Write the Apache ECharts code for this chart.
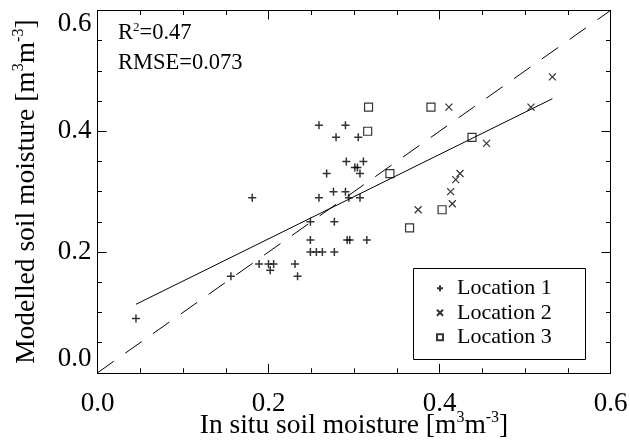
<!DOCTYPE html>
<html>
<head>
<meta charset="utf-8">
<script src="https://cdn.jsdelivr.net/npm/echarts@6/dist/echarts.min.js"></script>
<style>
html,body{margin:0;padding:0;background:#fff;}
#c{width:630px;height:447px;}
</style>
</head>
<body>
<div id="c"></div>
<script>
// ---- data ----
var loc1X = [0.045,0.156,0.181,0.189,0.200,0.206,0.202,0.231,0.234,0.249,0.249,0.249,0.256,0.263,0.277,0.277,0.259,0.259,0.268,0.276,0.279,0.290,0.290,0.291,0.294,0.292,0.295,0.301,0.304,0.305,0.307,0.307,0.311,0.315];
var loc1Y = [0.09,0.16,0.29,0.18,0.18,0.18,0.17,0.18,0.16,0.25,0.22,0.20,0.20,0.20,0.20,0.25,0.29,0.41,0.33,0.30,0.39,0.41,0.30,0.35,0.29,0.22,0.22,0.34,0.34,0.39,0.33,0.29,0.35,0.22];
var loc2X = [0.411,0.532,0.507,0.455,0.424,0.419,0.413,0.415,0.375];
var loc2Y = [0.44,0.49,0.44,0.38,0.33,0.32,0.30,0.28,0.27];
var loc3X = [0.317,0.316,0.342,0.390,0.438,0.403,0.365];
var loc3Y = [0.44,0.40,0.33,0.44,0.39,0.27,0.24];
var seriesNames = ['Location 1','Location 2','Location 3'];
var regSlope = 0.699, regIntercept = 0.082;
var regXRange = [0.045, 0.532];
var oneToOne = [0, 0.6];
var axisTicks = [0, 0.2, 0.4, 0.6];
var r2Text = '0.47', rmseText = '0.073';

function pairs(xs, ys){ return xs.map(function(x,i){ return [x, ys[i]]; }); }

var FONT = 'Liberation Serif';
var plusPath = 'path://M0,5L10,5M5,0L5,10';
var crossPath = 'path://M0,0L10,10M10,0L0,10';
var squarePath = 'path://M0,0L10,0L10,10L0,10Z';

function axisBase(pos, show){
  return {
    type:'value', position:pos, min:axisTicks[0], max:axisTicks[axisTicks.length-1], interval:axisTicks[1]-axisTicks[0],
    axisLine:{show:true, onZero:false, lineStyle:{color:'#000', width:1}},
    axisTick:{show:true, inside:true, length:9, lineStyle:{color:'#000', width:1}},
    minorTick:{show:true, splitNumber:4, length:4.5, lineStyle:{color:'#000', width:1}},
    splitLine:{show:false},
    axisLabel:{show:show, color:'#000', fontFamily:FONT, fontSize:27,
      formatter:function(v){ return v.toFixed(1); }}
  };
}
var nameRich = {
  t:{fontFamily:FONT, fontSize:27.5, color:'#000', lineHeight:32},
  s:{fontFamily:FONT, fontSize:16, color:'#000', verticalAlign:'top', lineHeight:32}
};

var xBottom = axisBase('bottom', true);
xBottom.axisLabel.margin = 18;
xBottom.name = '{t|In situ soil moisture [m}{s|3}{t|m}{s|-3}{t|]}';
xBottom.nameLocation = 'middle';
xBottom.nameGap = 37;
xBottom.nameMoveOverlap = false;
xBottom.nameTextStyle = {fontFamily:FONT, color:'#000', rich:nameRich};
var xTop = axisBase('top', false);

var yLeft = axisBase('left', true);
yLeft.axisLabel.margin = 6;
yLeft.axisLabel.verticalAlignMinLabel = 'bottom';
yLeft.axisLabel.verticalAlignMaxLabel = 'top';
yLeft.name = '{t|Modelled soil moisture [m}{s|3}{t|m}{s|-3}{t|]}';
yLeft.nameLocation = 'middle';
yLeft.nameGap = 55;
yLeft.nameMoveOverlap = false;
yLeft.nameTextStyle = {fontFamily:FONT, color:'#000', rich:nameRich};
var yRight = axisBase('right', false);

var option = {
  animation:false,
  backgroundColor:'#fff',
  grid:{left:97.5, right:19.5, top:10.5, bottom:74.2, containLabel:false, outerBoundsMode:'none'},
  xAxis:[xBottom, xTop],
  yAxis:[yLeft, yRight],
  legend:{
    data:seriesNames,
    orient:'vertical', left:436, top:277,
    padding:0,
    itemWidth:24, itemHeight:6, itemGap:2,
    selectedMode:false,
    symbolKeepAspect:true,
    textStyle:{fontFamily:FONT, fontSize:22, color:'#000', lineHeight:22.5}
  },
  graphic:[{
    type:'rect', left:413, top:268, z:100, silent:true,
    shape:{width:172, height:91},
    style:{fill:'transparent', stroke:'#000', lineWidth:1}
  },{
    type:'text', left:118, top:21,
    style:{text:'{a|R}{s|2}{a|=' + r2Text + '}', rich:{
      a:{fontFamily:FONT, fontSize:22.5, fill:'#000', lineHeight:25},
      s:{fontFamily:FONT, fontSize:13, fill:'#000', verticalAlign:'top', lineHeight:25}
    }}
  },{
    type:'text', left:118, top:52,
    style:{text:'RMSE=' + rmseText, fontFamily:FONT, fontSize:22.5, fill:'#000'}
  }],
  series:[
    {type:'line', name:'1:1', data:oneToOne.map(function(v){return [v,v];}), symbol:'none', silent:true,
      lineStyle:{color:'#000', width:1, type:[20,14]}, z:1},
    {type:'line', name:'fit', data:regXRange.map(function(x){return [x, regIntercept + regSlope*x];}), symbol:'none', silent:true,
      lineStyle:{color:'#000', width:1}, z:1},
    {type:'scatter', name:seriesNames[0], data:pairs(loc1X, loc1Y), symbol:plusPath, symbolSize:8, symbolKeepAspect:true,
      itemStyle:{color:'transparent', borderColor:'#000', borderWidth:1.5}},
    {type:'scatter', name:seriesNames[1], data:pairs(loc2X, loc2Y), symbol:crossPath, symbolSize:7, symbolKeepAspect:true,
      itemStyle:{color:'transparent', borderColor:'#000', borderWidth:1.2}},
    {type:'scatter', name:seriesNames[2], data:pairs(loc3X, loc3Y), symbol:squarePath, symbolSize:8, symbolKeepAspect:true,
      itemStyle:{color:'transparent', borderColor:'#000', borderWidth:1.2}}
  ]
};
var chart = echarts.init(document.getElementById('c'), null, {renderer:'canvas'});
chart.setOption(option);
</script>
</body>
</html>
